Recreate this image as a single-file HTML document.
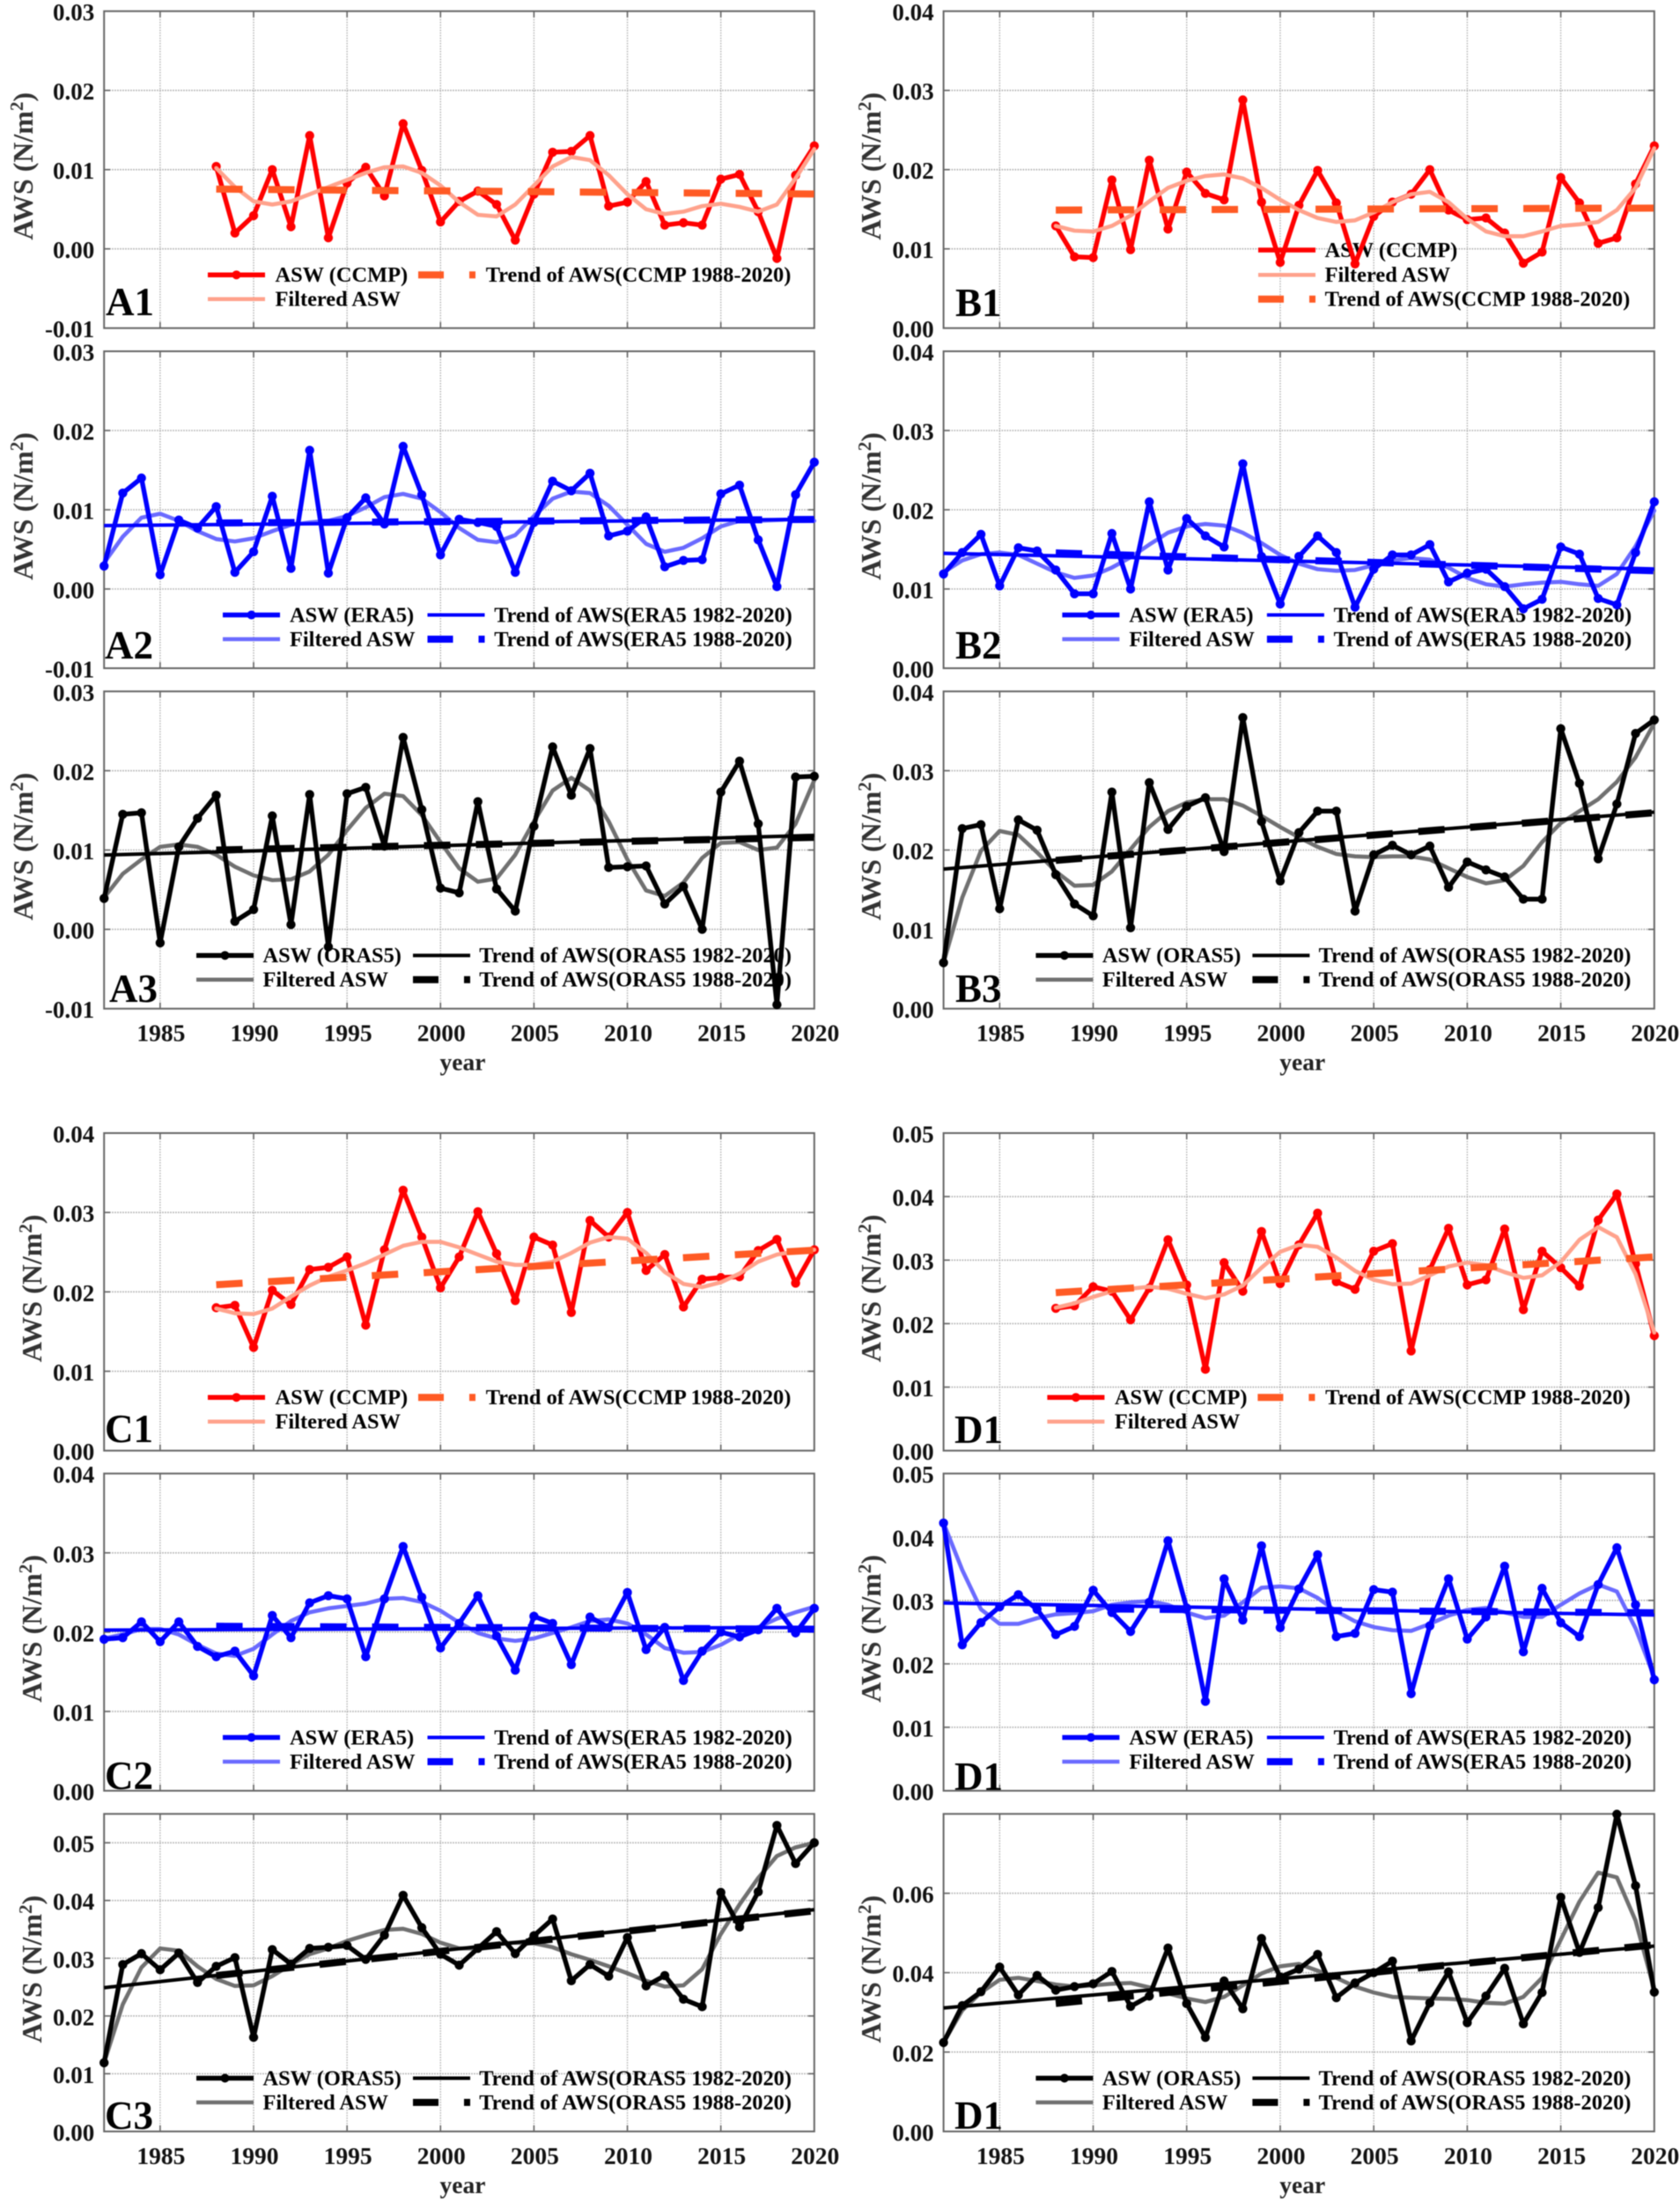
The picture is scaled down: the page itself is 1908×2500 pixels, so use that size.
<!DOCTYPE html>
<html lang="en">
<head>
<meta charset="utf-8">
<title>AWS and ASW time series, panels A to D</title>
<style>
html,body{margin:0;padding:0;background:#fff;}
#figure{display:block;width:1908px;height:2500px;filter:blur(0.55px);font-family:"Liberation Serif",serif;font-weight:bold;}
</style>
</head>
<body>
<svg id="figure" xmlns="http://www.w3.org/2000/svg" width="1908" height="2500" viewBox="0 0 1908 2500"></svg>
<script>
/* ---------- categories ---------- */
const yearsAll = [1982,1983,1984,1985,1986,1987,1988,1989,1990,1991,1992,1993,1994,1995,1996,1997,1998,1999,2000,2001,2002,2003,2004,2005,2006,2007,2008,2009,2010,2011,2012,2013,2014,2015,2016,2017,2018,2019,2020];
const yearsCcmp = [1988,1989,1990,1991,1992,1993,1994,1995,1996,1997,1998,1999,2000,2001,2002,2003,2004,2005,2006,2007,2008,2009,2010,2011,2012,2013,2014,2015,2016,2017,2018,2019,2020];
const trendYears82 = [1982,2020];
const trendYears88 = [1988,2020];
const xTickYears = [1985,1990,1995,2000,2005,2010,2015,2020];

/* ---------- tick labels and axis domains ---------- */
const ticksA = ["-0.01","0.00","0.01","0.02","0.03"];
const ticksB = ["0.00","0.01","0.02","0.03","0.04"];
const ticksD = ["0.00","0.01","0.02","0.03","0.04","0.05"];
const ticksD3 = ["0.00","0.02","0.04","0.06"];
const domainA = [-0.01,0.03];
const domainB = [0,0.04];
const domainD = [0,0.05];
const domainC3 = [0,0.055];
const domainD3 = [0,0.08];

/* ---------- series values (N/m2) ---------- */
const a1Asw = [.0104,.0020,.0042,.0100,.0028,.0143,.0014,.0083,.0103,.0067,.0158,.0099,.0034,.0060,.0073,.0056,.0011,.0069,.0122,.0123,.0143,.0054,.0059,.0085,.0030,.0033,.0030,.0088,.0094,.0047,-.0012,.0093,.0130];
const a1Filtered = [.0102,.0078,.0060,.0056,.0060,.0069,.0078,.0087,.0096,.0103,.0104,.0096,.0080,.0059,.0043,.0041,.0056,.0080,.0104,.0116,.0112,.0093,.0069,.0050,.0044,.0047,.0054,.0057,.0053,.0047,.0056,.0089,.0126];
const a1Trend88 = [.00755,.00693];

const a2Asw = [.0029,.0121,.0140,.0018,.0087,.0077,.0104,.0021,.0047,.0117,.0026,.0175,.0020,.0090,.0115,.0082,.0180,.0119,.0043,.0088,.0084,.0079,.0021,.0084,.0136,.0124,.0146,.0067,.0073,.0091,.0028,.0036,.0037,.0120,.0131,.0062,.0003,.0119,.0160];
const a2Filtered = [.0033,.0066,.0090,.0095,.0086,.0073,.0063,.0060,.0064,.0073,.0081,.0084,.0086,.0092,.0103,.0116,.0120,.0114,.0097,.0077,.0062,.0059,.0068,.0092,.0114,.0123,.0121,.0105,.0081,.0057,.0047,.0052,.0064,.0079,.0086,.0086,.0087,.0088,.0086];
const a2Trend82 = [.0080,.0088];
const a2Trend88 = [.00833,.00878];

const a3Asw = [.0039,.0145,.0147,-.0017,.0104,.0140,.0169,.0010,.0025,.0143,.0006,.0170,-.0022,.0171,.0179,.0105,.0242,.0151,.0052,.0046,.0161,.0051,.0023,.0130,.0230,.0169,.0228,.0078,.0079,.0080,.0032,.0054,.0000,.0173,.0212,.0133,-.0095,.0192,.0193];
const a3Filtered = [.0040,.0070,.0088,.0104,.0107,.0104,.0094,.0079,.0068,.0062,.0063,.0073,.0094,.0125,.0153,.0171,.0168,.0144,.0110,.0077,.0060,.0064,.0094,.0136,.0175,.0191,.0175,.0136,.0088,.0049,.0042,.0059,.0090,.0109,.0110,.0100,.0103,.0133,.0188];
const a3Trend82 = [.00937,.01185];
const a3Trend88 = [.0100,.0116];

const b1Asw = [.0129,.0090,.0089,.0187,.0099,.0212,.0125,.0197,.0170,.0162,.0288,.0159,.0083,.0155,.0199,.0158,.0081,.0141,.0159,.0169,.0200,.0149,.0137,.0139,.0120,.0082,.0096,.0190,.0158,.0107,.0114,.0182,.0230];
const b1Filtered = [.0129,.0123,.0122,.0129,.0142,.0160,.0177,.0186,.0192,.0194,.0189,.0177,.0162,.0149,.0139,.0134,.0136,.0146,.0159,.0169,.0172,.0159,.0138,.0122,.0116,.0116,.0122,.0129,.0131,.0134,.0149,.0177,.0227];
const b1Trend88 = [.0149,.01515];

const b2Asw = [.0119,.0146,.0169,.0104,.0152,.0148,.0124,.0094,.0094,.0170,.0100,.0210,.0124,.0189,.0167,.0153,.0258,.0141,.0081,.0141,.0167,.0146,.0077,.0125,.0143,.0143,.0156,.0109,.0120,.0125,.0103,.0075,.0087,.0153,.0144,.0088,.0080,.0146,.0210];
const b2Filtered = [.0121,.0136,.0144,.0146,.0143,.0132,.0121,.0114,.0117,.0127,.0140,.0156,.0171,.0179,.0182,.0180,.0171,.0158,.0143,.0132,.0125,.0123,.0124,.0130,.0136,.0139,.0137,.0127,.0114,.0106,.0103,.0106,.0108,.0109,.0106,.0104,.0119,.0154,.0199];
const b2Trend82 = [.0145,.0125];
const b2Trend88 = [.01455,.0123];

const b3Asw = [.0058,.0227,.0232,.0126,.0238,.0225,.0169,.0132,.0117,.0273,.0102,.0285,.0226,.0255,.0266,.0198,.0367,.0236,.0161,.0222,.0249,.0249,.0123,.0194,.0206,.0194,.0205,.0153,.0185,.0175,.0166,.0138,.0138,.0353,.0284,.0189,.0258,.0347,.0364];
const b3Filtered = [.0058,.0140,.0199,.0224,.0219,.0197,.0173,.0155,.0156,.0173,.0201,.0229,.0249,.0260,.0264,.0264,.0256,.0243,.0229,.0216,.0204,.0195,.0192,.0191,.0192,.0192,.0188,.0177,.0166,.0158,.0162,.0180,.0210,.0234,.0249,.0264,.0286,.0317,.0360];
const b3Trend82 = [.0176,.02478];
const b3Trend88 = [.0187,.0247];

const c1Asw = [.0180,.0183,.0130,.0202,.0184,.0228,.0231,.0244,.0158,.0253,.0328,.0269,.0205,.0244,.0301,.0248,.0189,.0269,.0259,.0174,.0290,.0269,.0300,.0227,.0247,.0181,.0216,.0218,.0219,.0252,.0266,.0211,.0253];
const c1Filtered = [.0179,.0173,.0172,.0179,.0194,.0208,.0219,.0227,.0236,.0247,.0258,.0263,.0263,.0256,.0247,.0238,.0234,.0234,.0238,.0249,.0262,.0269,.0267,.0249,.0225,.0210,.0206,.0212,.0223,.0238,.0247,.0251,.0253];
const c1Trend88 = [.0209,.02525];

const c2Asw = [.0191,.0193,.0213,.0188,.0213,.0182,.0169,.0176,.0145,.0221,.0193,.0237,.0246,.0242,.0169,.0242,.0308,.0244,.0180,.0211,.0246,.0195,.0152,.0220,.0211,.0159,.0219,.0206,.0250,.0178,.0206,.0139,.0176,.0200,.0194,.0203,.0230,.0199,.0230];
const c2Filtered = [.0192,.0197,.0204,.0204,.0197,.0184,.0173,.0170,.0179,.0197,.0214,.0225,.0230,.0233,.0236,.0242,.0243,.0238,.0227,.0212,.0199,.0192,.0189,.0192,.0199,.0206,.0214,.0216,.0211,.0197,.0180,.0174,.0175,.0184,.0197,.0206,.0217,.0225,.0232];
const c2Trend82 = [.02026,.0206];
const c2Trend88 = [.02074,.02037];

const c3Asw = [.0119,.0289,.0308,.0280,.0309,.0258,.0286,.0301,.0163,.0315,.0290,.0317,.0319,.0322,.0298,.0340,.0409,.0353,.0307,.0288,.0317,.0346,.0308,.0339,.0368,.0261,.0289,.0269,.0336,.0252,.0270,.0229,.0216,.0414,.0354,.0415,.0530,.0464,.0500];
const c3Filtered = [.0119,.0220,.0284,.0317,.0313,.0286,.0264,.0252,.0253,.0269,.0289,.0307,.0317,.0330,.0340,.0349,.0351,.0342,.0327,.0317,.0317,.0325,.0327,.0326,.0319,.0307,.0297,.0286,.0274,.0261,.0251,.0253,.0281,.0342,.0393,.0439,.0477,.0492,.0500];
const c3Trend82 = [.0249,.0384];
const c3Trend88 = [.0270,.0382];

const d1Asw = [.0224,.0228,.0258,.0251,.0206,.0256,.0332,.0261,.0128,.0296,.0251,.0345,.0263,.0324,.0374,.0266,.0254,.0314,.0326,.0157,.0285,.0350,.0261,.0269,.0349,.0222,.0314,.0288,.0259,.0363,.0404,.0294,.0181];
const d1Filtered = [.0225,.0232,.0242,.0251,.0255,.0258,.0255,.0247,.0240,.0246,.0260,.0288,.0313,.0324,.0321,.0304,.0283,.0269,.0262,.0263,.0276,.0290,.0296,.0292,.0281,.0272,.0276,.0297,.0332,.0352,.0336,.0278,.0186];
const d1Trend88 = [.02488,.0305];

const d2Asw = [.0422,.0230,.0265,.0290,.0309,.0286,.0246,.0259,.0316,.0281,.0251,.0297,.0394,.0288,.0141,.0334,.0269,.0386,.0257,.0318,.0372,.0243,.0248,.0317,.0313,.0153,.0260,.0334,.0239,.0274,.0354,.0219,.0319,.0265,.0243,.0325,.0383,.0293,.0175];
const d2Filtered = [.0422,.0348,.0286,.0263,.0263,.0272,.0278,.0280,.0283,.0293,.0297,.0299,.0293,.0281,.0272,.0276,.0297,.0320,.0322,.0319,.0304,.0283,.0267,.0258,.0253,.0252,.0263,.0276,.0285,.0288,.0281,.0274,.0274,.0293,.0311,.0325,.0314,.0256,.0179];
const d2Trend82 = [.0296,.0277];
const d2Trend88 = [.0287,.02805];

const d3Asw = [.0224,.0317,.0352,.0414,.0344,.0393,.0356,.0365,.0372,.0403,.0315,.0341,.0462,.0322,.0237,.0379,.0309,.0486,.0389,.0409,.0446,.0337,.0374,.0400,.0429,.0228,.0324,.0402,.0274,.0341,.0411,.0271,.0350,.0590,.0451,.0564,.0799,.0619,.0351];
const d3Filtered = [.0224,.0305,.0350,.0382,.0387,.0379,.0370,.0365,.0368,.0372,.0374,.0363,.0348,.0335,.0326,.0339,.0368,.0398,.0416,.0422,.0405,.0387,.0365,.0350,.0339,.0337,.0335,.0334,.0331,.0324,.0322,.0339,.0387,.0483,.0579,.0652,.0640,.0531,.0357];
const d3Trend82 = [.0311,.0467];
const d3Trend88 = [.03225,.0470];

/* ---------- panel definitions ---------- */
const panels = [
  {label:"A1",col:"A",top:12.7,bottom:372.7,labelX:120,labelY:358,source:"CCMP",domain:domainA,ticks:ticksA,years:yearsCcmp,asw:a1Asw,filtered:a1Filtered,trend88:a1Trend88},
  {label:"A2",col:"A",top:399,bottom:759,labelX:119,labelY:748,source:"ERA5",domain:domainA,ticks:ticksA,years:yearsAll,asw:a2Asw,filtered:a2Filtered,trend82:a2Trend82,trend88:a2Trend88},
  {label:"A3",col:"A",top:785.3,bottom:1145.7,labelX:124,labelY:1138,source:"ORAS5",domain:domainA,ticks:ticksA,years:yearsAll,asw:a3Asw,filtered:a3Filtered,trend82:a3Trend82,trend88:a3Trend88,xAxis:true},
  {label:"B1",col:"B",top:12.7,bottom:372.7,labelX:1085,labelY:359,source:"CCMP",domain:domainB,ticks:ticksB,years:yearsCcmp,asw:b1Asw,filtered:b1Filtered,trend88:b1Trend88,stacked:true},
  {label:"B2",col:"B",top:399,bottom:759,labelX:1085,labelY:748,source:"ERA5",domain:domainB,ticks:ticksB,years:yearsAll,asw:b2Asw,filtered:b2Filtered,trend82:b2Trend82,trend88:b2Trend88},
  {label:"B3",col:"B",top:785.3,bottom:1145.7,labelX:1085,labelY:1138,source:"ORAS5",domain:domainB,ticks:ticksB,years:yearsAll,asw:b3Asw,filtered:b3Filtered,trend82:b3Trend82,trend88:b3Trend88,xAxis:true},
  {label:"C1",col:"C",top:1287,bottom:1647.7,labelX:119,labelY:1638,source:"CCMP",domain:domainB,ticks:ticksB,years:yearsCcmp,asw:c1Asw,filtered:c1Filtered,trend88:c1Trend88},
  {label:"C2",col:"C",top:1673.7,bottom:2034,labelX:119,labelY:2032,source:"ERA5",domain:domainB,ticks:ticksB,years:yearsAll,asw:c2Asw,filtered:c2Filtered,trend82:c2Trend82,trend88:c2Trend88},
  {label:"C3",col:"C",top:2060.3,bottom:2421,labelX:119,labelY:2418,source:"ORAS5",domain:domainC3,ticks:ticksD,years:yearsAll,asw:c3Asw,filtered:c3Filtered,trend82:c3Trend82,trend88:c3Trend88,xAxis:true},
  {label:"D1",col:"D",top:1287,bottom:1647.7,labelX:1084,labelY:1639,source:"CCMP",domain:domainD,ticks:ticksD,years:yearsCcmp,asw:d1Asw,filtered:d1Filtered,trend88:d1Trend88},
  {label:"D1",col:"D",top:1673.7,bottom:2034,labelX:1084,labelY:2033,source:"ERA5",domain:domainD,ticks:ticksD,years:yearsAll,asw:d2Asw,filtered:d2Filtered,trend82:d2Trend82,trend88:d2Trend88},
  {label:"D1",col:"D",top:2060.3,bottom:2421,labelX:1084,labelY:2418,source:"ORAS5",domain:domainD3,ticks:ticksD3,years:yearsAll,asw:d3Asw,filtered:d3Filtered,trend82:d3Trend82,trend88:d3Trend88,xAxis:true}
];

/* ---------- styling and layout ---------- */
const columnLayout = {
  A:{left:118.2,right:924.8,titleX:26},
  B:{left:1071.6,right:1878.8,titleX:989},
  C:{left:118.2,right:924.8,titleX:36},
  D:{left:1071.6,right:1878.8,titleX:989}
};
const sourceStyle = {
  CCMP:{main:"#ff0000",filtered:"#ffa28c",trend:"#ff5a24",filteredOnTop:true,
        line:117.8,text:194.3,trendLine:356.8,trendText:433.5},
  ERA5:{main:"#0000ff",filtered:"#6a6aff",trend:"#0000ff",filteredOnTop:false,
        line:134.8,text:210.8,trendLine:367.3,trendText:443},
  ORAS5:{main:"#000000",filtered:"#707070",trend:"#000000",filteredOnTop:false,
        line:104.8,text:180.3,trendLine:350.8,trendText:426}
};
const SVG_NS = "http://www.w3.org/2000/svg";
const root = document.getElementById("figure");

function make(tag, attrs, parent, content) {
  const el = document.createElementNS(SVG_NS, tag);
  for (const k in attrs) { el.setAttribute(k, attrs[k]); }
  if (content !== undefined) { el.textContent = content; }
  parent.appendChild(el);
  return el;
}

function drawSeriesLine(parent, years, values, xScale, yScale, color, width, name) {
  const pts = values.map(function (v, i) { return xScale(years[i]).toFixed(2) + "," + yScale(v).toFixed(2); }).join(" ");
  const el = make("polyline", {points: pts, fill: "none", stroke: color, "stroke-width": width, "stroke-linejoin": "round", "stroke-linecap": "round"}, parent);
  
  
  return el;
}

function drawLegendEntry(parent, x1, x2, y, textX, label, color, width, dashed, marker) {
  const g = make("g", {}, parent);
  
  
  const attrs = {x1: x1, x2: x2, y1: y, y2: y, stroke: color, "stroke-width": width};
  if (dashed) { attrs["stroke-dasharray"] = "29 29"; }
  const swatch = make("line", attrs, g);
  
  
  if (marker) {
    const dot = make("circle", {cx: (x1 + x2) / 2, cy: y, r: 5, fill: color}, g);
    
    
  }
  const text = make("text", {x: textX, y: y + 8, "font-size": 24.4, fill: "#000"}, g, label);
  
  
}

function drawPanel(p) {
  const layout = columnLayout[p.col];
  const style = sourceStyle[p.source];
  const left = layout.left, right = layout.right;
  const xScale = function (year) { return left + (year - 1982) / (2020 - 1982) * (right - left); };
  const yScale = function (v) { return p.bottom - (v - p.domain[0]) / (p.domain[1] - p.domain[0]) * (p.bottom - p.top); };

  const g = make("g", {}, root);
  
  

  /* grid and ticks */
  xTickYears.forEach(function (year) {
    if (year === 2020) { return; }
    const x = xScale(year);
    const grid = make("line", {x1: x, x2: x, y1: p.top, y2: p.bottom, stroke: "#b0b0b0", "stroke-width": 1.4, "stroke-dasharray": "1.5 1.5"}, g);
    
    
    const tickB = make("line", {x1: x, x2: x, y1: p.bottom, y2: p.bottom - 7, stroke: "#666", "stroke-width": 1.6}, g);
    
    
    const tickT = make("line", {x1: x, x2: x, y1: p.top, y2: p.top + 7, stroke: "#666", "stroke-width": 1.6}, g);
    
    
  });
  p.ticks.forEach(function (label) {
    const v = parseFloat(label);
    const y = yScale(v);
    if (v !== p.domain[0] && v !== p.domain[1]) {
      const grid = make("line", {x1: left, x2: right, y1: y, y2: y, stroke: "#a8a8a8", "stroke-width": 1.6, "stroke-dasharray": "1.5 1.5"}, g);
      
      
      const tickL = make("line", {x1: left, x2: left + 7, y1: y, y2: y, stroke: "#666", "stroke-width": 1.6}, g);
      
      
      const tickR = make("line", {x1: right, x2: right - 7, y1: y, y2: y, stroke: "#666", "stroke-width": 1.6}, g);
      
      
    }
    const tickLabel = make("text", {x: left - 11, y: y + 10.5, "text-anchor": "end", "font-size": 27, fill: "#111"}, g, label);
    
    
  });

  /* frame */
  const frame = make("rect", {x: left, y: p.top, width: right - left, height: p.bottom - p.top, fill: "none", stroke: "#666", "stroke-width": 2}, g);
  
  

  /* y-axis title */
  const cy = (p.top + p.bottom) / 2 - 4;
  const title = make("text", {transform: "translate(" + (layout.titleX + 11) + "," + cy + ") rotate(-90)", "text-anchor": "middle", "font-size": 32, fill: "#333"}, g);
  
  
  make("tspan", {}, title, "AWS (N/m");
  make("tspan", {dy: -11, "font-size": 21}, title, "2");
  make("tspan", {dy: 11}, title, ")");

  /* x axis labels */
  if (p.xAxis) {
    xTickYears.forEach(function (year) {
      const t = make("text", {x: xScale(year) + 1, y: p.bottom + 37, "text-anchor": "middle", "font-size": 27.5, fill: "#111"}, g, String(year));
      
      
    });
    const xTitle = make("text", {x: (left + right) / 2 + 4, y: p.bottom + 70, "text-anchor": "middle", "font-size": 27.5, fill: "#222"}, g, "year");
    
    
  }

  /* panel letter */
  const letter = make("text", {x: p.labelX, y: p.labelY, "font-size": 45, fill: "#000"}, g, p.label);
  
  

  /* legend */
  const legend = make("g", {}, g);
  
  
  const row1 = p.bottom - 60.5, row2 = p.bottom - 33;
  const aswText = "ASW (" + p.source + ")";
  const t88 = "Trend of AWS(" + p.source + " 1988-2020)";
  const t82 = "Trend of AWS(" + p.source + " 1982-2020)";
  if (p.stacked) {
    const lx = left + 357.4, tx = left + 433;
    drawLegendEntry(legend, lx, lx + 65, p.bottom - 88.7, tx, aswText, style.main, 5.5, false, false);
    drawLegendEntry(legend, lx, lx + 65, row1, tx, "Filtered ASW", style.filtered, 4.5, false, false);
    drawLegendEntry(legend, lx, lx + 65, row2, tx, t88, style.trend, 8, true, false);
  } else {
    const lx = left + style.line, tx = left + style.text, ty = left + style.trendLine, ttx = left + style.trendText;
    drawLegendEntry(legend, lx, lx + 65, row1, tx, aswText, style.main, 5.5, false, true);
    drawLegendEntry(legend, lx, lx + 65, row2, tx, "Filtered ASW", style.filtered, 4.5, false, false);
    if (p.trend82) {
      drawLegendEntry(legend, ty, ty + 65, row1, ttx, t82, style.trend, 4, false, false);
      drawLegendEntry(legend, ty, ty + 65, row2, ttx, t88, style.trend, 8, true, false);
    } else {
      drawLegendEntry(legend, ty, ty + 65, row1, ttx, t88, style.trend, 8, true, false);
    }
  }

  /* series */
  if (!style.filteredOnTop) { drawSeriesLine(g, p.years, p.filtered, xScale, yScale, style.filtered, 4.6, "filtered-asw-line"); }
  drawSeriesLine(g, p.years, p.asw, xScale, yScale, style.main, 5.4, "asw-line");
  p.asw.forEach(function (v, i) {
    const dot = make("circle", {cx: xScale(p.years[i]), cy: yScale(v), r: 5.2, fill: style.main}, g);
    
    
  });
  if (style.filteredOnTop) { drawSeriesLine(g, p.years, p.filtered, xScale, yScale, style.filtered, 4.6, "filtered-asw-line"); }

  if (p.trend82) {
    const solid = make("line", {x1: xScale(trendYears82[0]), x2: xScale(trendYears82[1]), y1: yScale(p.trend82[0]), y2: yScale(p.trend82[1]), stroke: style.trend, "stroke-width": 4}, g);
    
    
  }
  const dashed = make("line", {x1: xScale(trendYears88[0]), x2: xScale(trendYears88[1]), y1: yScale(p.trend88[0]), y2: yScale(p.trend88[1]), stroke: style.trend, "stroke-width": 8, "stroke-dasharray": "30 29"}, g);
  
  
}

panels.forEach(drawPanel);
</script>
</body>
</html>
